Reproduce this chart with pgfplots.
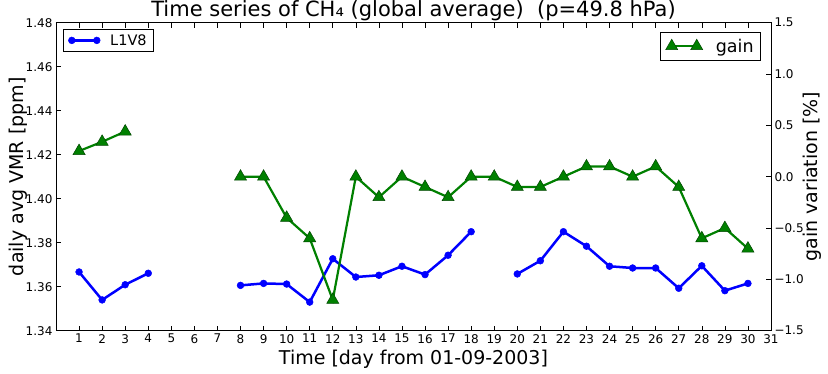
\documentclass[border=0pt]{standalone}
\usepackage{fontspec}
\setmainfont{DejaVu Sans}
\usepackage{pgfplots}
\pgfplotsset{compat=1.18}
\definecolor{mplblue}{RGB}{0,0,255}
\definecolor{mplgreen}{RGB}{0,128,0}
\definecolor{mpldkgreen}{RGB}{0,70,0}

\pgfplotsset{
  mplbase/.style={
    at={(0,0)}, anchor=south west,
    scale only axis, width=715pt, height=308pt,
    xmin=0, xmax=31,
    tick align=inside,
    major tick length=5pt,
    tick style={black, line width=0.6pt},
    /pgf/number format/assume math mode=true,
    tick label style={font=\fontsize{12}{14}\selectfont},
    label style={font=\fontsize{19}{22}\selectfont},
    legend image code/.code={%
      \draw[#1, mark repeat=1, mark phase=1] plot coordinates {(0pt,0pt) (25pt,0pt)};},
  },
}

\begin{document}
\begin{tikzpicture}
\path[use as bounding box] (-56pt,-42.3pt) rectangle (772pt,330.7pt);

\begin{axis}[
  mplbase,
  ymin=1.34, ymax=1.48,
  xtick={1,...,31},
  ytick={1.34,1.36,1.38,1.40,1.42,1.44,1.46,1.48},
  yticklabels={1.34,1.36,1.38,1.40,1.42,1.44,1.46,1.48},
  ytick pos=left,
  axis line style={line width=0.9pt},
  unbounded coords=jump,
  xlabel={Time [day from 01-09-2003]},
  ylabel={daily avg VMR [ppm]},
  xlabel style={at={(axis description cs:0.5,-0.094)}, anchor=center},
  ylabel style={at={(axis description cs:-0.0531,0.5)}, anchor=center},
  title={Time series of CH₄ (global average)\ \ (p=49.8 hPa)},
  every axis title shift=0pt,
  title style={at={(axis description cs:0.5,1.038)}, anchor=center, yshift=0pt,
    font=\fontsize{21}{24}\selectfont},
  legend style={at={(0.0098,0.98)}, anchor=north west,
    draw=black, line width=0.8pt, inner xsep=5pt, inner ysep=3pt,
    font=\fontsize{14.5}{16}\selectfont,
    /tikz/every odd column/.append style={column sep=8pt}},
  legend cell align=left,
]
\addplot[color=mplblue, line width=2.5pt, mark=*, mark size=3.4pt,
  mark options={fill=mplblue, draw=mplblue, line width=0.5pt}]
  coordinates {
  (1,1.3667)(2,1.3540)(3,1.3609)(4,1.3661)
  (5,nan)
  (8,1.3606)(9,1.3615)(10,1.3612)(11,1.3530)(12,1.3727)(13,1.3644)
  (14,1.3652)(15,1.3693)(16,1.3655)(17,1.3743)(18,1.3850)
  (19,nan)
  (20,1.3658)(21,1.3718)(22,1.3850)(23,1.3784)(24,1.3693)(25,1.3685)
  (26,1.3685)(27,1.3593)(28,1.3695)(29,1.3582)(30,1.3615)
  };
\addlegendentry{L1V8}
\end{axis}

\begin{axis}[
  mplbase,
  ymin=-1.5, ymax=1.5,
  axis x line=none,
  axis y line*=right,
  axis line style={line width=0.9pt, -},
  ytick={-1.5,-1.0,-0.5,0.0,0.5,1.0,1.5},
  yticklabels={−1.5,−1.0,−0.5,0.0,0.5,1.0,1.5},
  ylabel={gain variation [\%]},
  ylabel style={at={(axis description cs:1.0573,0.5)}, anchor=center, rotate=0},
  unbounded coords=jump,
  legend style={at={(0.986,0.97)}, anchor=north east,
    draw=black, line width=0.8pt, inner xsep=5pt, inner ysep=4.5pt,
    font=\fontsize{17.5}{20}\selectfont,
    /tikz/every odd column/.append style={column sep=11pt}},
]
\addplot[color=mplgreen, line width=2.2pt, mark=triangle*, mark size=7pt,
  mark options={fill=mplgreen, draw=mpldkgreen, line width=0.5pt}]
  coordinates {
  (1,0.25)(2,0.34)(3,0.44)
  (4,nan)
  (8,0.0)(9,0.0)(10,-0.4)(11,-0.6)(12,-1.2)(13,0.0)(14,-0.2)(15,0.0)
  (16,-0.1)(17,-0.2)(18,0.0)(19,0.0)(20,-0.1)(21,-0.1)(22,0.0)(23,0.1)
  (24,0.1)(25,0.0)(26,0.1)(27,-0.1)(28,-0.6)(29,-0.5)(30,-0.7)
  };
\addlegendentry{gain}
\end{axis}
\end{tikzpicture}
\end{document}
